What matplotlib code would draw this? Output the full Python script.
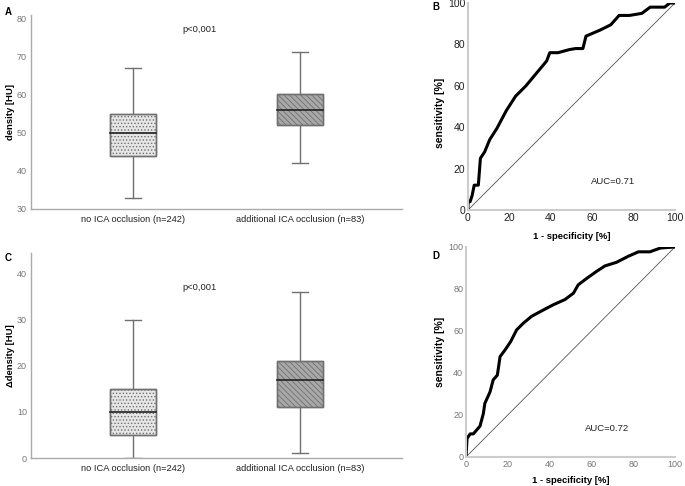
import matplotlib.pyplot as plt
from matplotlib.patches import Rectangle

plt.rcParams['font.family'] = ['Liberation Sans', 'DejaVu Sans']
plt.rcParams['hatch.linewidth'] = 0.6

# box plot statistics (whisker low, Q1, median, Q3, whisker high)
groups = ["no ICA occlusion (n=242)", "additional ICA occlusion (n=83)"]
density_stats = [[33, 44, 50, 55, 67], [42, 52, 56, 60, 71]]
delta_stats = [[0, 5, 10, 15, 30], [1, 11, 17, 21, 36]]

# ROC curves (1 - specificity, sensitivity) in %
roc_b_x = [0, 0, 1, 2, 3, 5, 6, 8, 10.5, 14, 18.5, 23, 28, 33, 38, 39.5, 43.5, 49, 52,
           55.5, 57, 64, 69, 73, 78, 84, 88, 95, 97.5, 100]
roc_b_y = [0, 4, 4, 7, 12, 12, 25, 28, 34, 39.5, 48, 55, 60, 66, 72, 76, 76, 77.5, 78,
           78, 84, 87, 89.5, 94, 94, 95, 98, 98, 100, 100]
roc_d_x = [0, 0.5, 2, 3.5, 6.7, 8.3, 9, 11.5, 13, 15, 16.3, 18.7, 21.4, 24.2, 27.4, 31.4,
           37, 41.8, 47.4, 51.4, 53.7, 57.7, 62.5, 66.5, 72, 77.7, 82.5, 88, 93, 100]
roc_d_y = [0, 8.8, 11, 11, 14.7, 20.7, 25.5, 31, 36.7, 39, 47.8, 51, 55, 60.5, 63.7, 67,
           70, 72.5, 75, 78, 82, 85, 88.4, 91, 92.7, 95.6, 97.7, 97.7, 99.5, 100]

fig = plt.figure(figsize=(6.85, 4.86), dpi=100)

box_faces = ['#e6e6e6', '#a8a8a8']
box_hatches = ['.....', '\\\\\\\\\\\\']
hatch_colors = ['#b0b0b0', '#6a6a6a']


def draw_boxes(ax, stats, ylim, yticks, ylabel, ptext_y):
    ax.set_xlim(0.389, 2.611)
    ax.set_ylim(*ylim)
    w = 0.275
    cap = 0.05
    for i, s in enumerate(stats):
        xc = i + 1
        lo, q1, med, q3, hi = s
        plt.rcParams['hatch.color'] = hatch_colors[i]
        ax.add_patch(Rectangle((xc - w / 2, q1), w, q3 - q1, facecolor=box_faces[i],
                               edgecolor='#707070', hatch=box_hatches[i], lw=1.0, zorder=2))
        ax.add_patch(Rectangle((xc - w / 2, q1), w, q3 - q1, facecolor='none',
                               edgecolor='#707070', lw=1.0, zorder=3))
        ax.plot([xc - w / 2, xc + w / 2], [med, med], color='#222222', lw=1.2, zorder=4)
        ax.plot([xc, xc], [q3, hi], color='#707070', lw=1.0, zorder=1)
        ax.plot([xc, xc], [lo, q1], color='#707070', lw=1.0, zorder=1)
        ax.plot([xc - cap, xc + cap], [hi, hi], color='#707070', lw=1.0)
        ax.plot([xc - cap, xc + cap], [lo, lo], color='#707070', lw=1.0)
    ax.set_xticks([1, 2])
    ax.set_xticklabels(groups, fontsize=6.7, color='#222222')
    ax.set_yticks(yticks)
    ax.tick_params(axis='y', length=0, labelsize=6.5, labelcolor='#777777', pad=3)
    ax.tick_params(axis='x', length=0, pad=4)
    for sp in ['top', 'right']:
        ax.spines[sp].set_visible(False)
    for sp in ['left', 'bottom']:
        ax.spines[sp].set_color('#aaaaaa')
        ax.spines[sp].set_linewidth(1.0)
    ax.set_ylabel(ylabel, fontsize=6.8, fontweight='bold', va='center')
    ax.yaxis.set_label_coords(-0.0566, 0.5)
    ax.text(1.4, ptext_y, "p<0,001", fontsize=6.7, ha='center', va='center', color='#222222')


def draw_roc(ax, xs, ys, auc, auc_x, tick_size, tick_color, xlab_y, ylab_x, ylab_y):
    ax.set_xlim(0, 100)
    ax.set_ylim(0, 100)
    ax.plot([0, 100], [0, 100], color='#555555', lw=0.6)
    ax.plot(xs, ys, color='black', lw=2.2, solid_joinstyle='round')
    ax.set_xticks(range(0, 101, 20))
    ax.set_yticks(range(0, 101, 20))
    ax.tick_params(length=0, labelsize=tick_size, labelcolor=tick_color, pad=2)
    for sp in ['top', 'right']:
        ax.spines[sp].set_visible(False)
    for sp in ['left', 'bottom']:
        ax.spines[sp].set_color('#cccccc')
        ax.spines[sp].set_linewidth(1.5)
    ax.set_xlabel("1 - specificity [%]", fontsize=6.8, fontweight='bold', va='center')
    ax.xaxis.set_label_coords(0.5, xlab_y)
    ax.set_ylabel("sensitivity [%]", fontsize=7.5, fontweight='bold', va='center')
    ax.yaxis.set_label_coords(ylab_x, ylab_y)
    ax.text(auc_x, 13.7, auc, fontsize=6.8, ha='center', va='center', color='#222222')


ax_a = fig.add_axes([0.0453, 0.5700, 0.5416, 0.3992])
draw_boxes(ax_a, density_stats, (30, 80.8), range(30, 81, 10), "density [HU]", 77)

ax_c = fig.add_axes([0.0453, 0.0576, 0.5416, 0.4218])
draw_boxes(ax_c, delta_stats, (0, 44.5), range(0, 41, 10), "Δdensity [HU]", 37)

ax_b = fig.add_axes([0.6832, 0.5679, 0.3022, 0.4259])
draw_roc(ax_b, roc_b_x, roc_b_y, "AUC=0.71", 70, 7.5, '#222222', -0.13, -0.135, 0.47)

ax_d = fig.add_axes([0.6803, 0.0597, 0.3051, 0.4321])
draw_roc(ax_d, roc_d_x, roc_d_y, "AUC=0.72", 67.5, 6.5, '#777777', -0.11, -0.124, 0.5)

fig.text(5 / 685, 1 - 12 / 486, "A", fontsize=7, fontweight='bold', va='center')
fig.text(5 / 685, 1 - 258 / 486, "C", fontsize=7, fontweight='bold', va='center')
fig.text(432 / 685, 1 - 7 / 486, "B", fontsize=7, fontweight='bold', va='center')
fig.text(432 / 685, 1 - 256 / 486, "D", fontsize=7, fontweight='bold', va='center')

fig.savefig("out.png", dpi=100)
